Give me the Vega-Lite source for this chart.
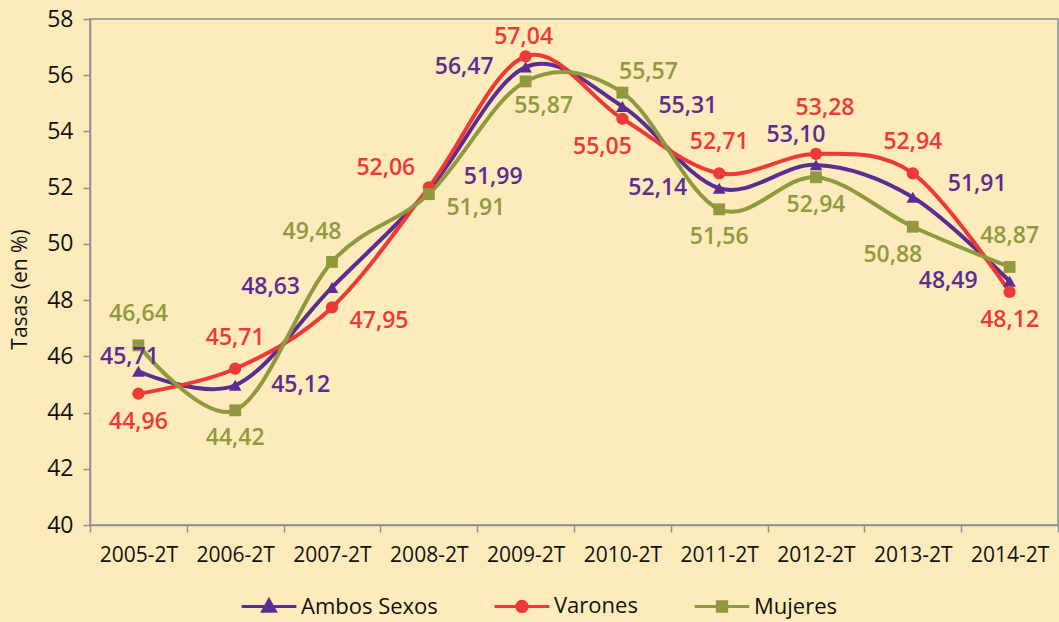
{
  "$schema": "https://vega.github.io/schema/vega-lite/v6.json",
  "width": 968,
  "height": 506,
  "autosize": {"type": "none"},
  "padding": {"left": 90, "top": 19, "right": 1, "bottom": 97},
  "background": "#fdebbb",
  "config": {
    "view": {"stroke": "#8b8f97", "strokeWidth": 1.5, "fill": "#fdebbb"},
    "font": "Open Sans"
  },
  "data": {
    "values": [
      {"periodo": "2005-2T", "serie": "Ambos Sexos", "tasa": 45.47, "etiqueta": "45,71"},
      {"periodo": "2006-2T", "serie": "Ambos Sexos", "tasa": 44.97, "etiqueta": "45,12"},
      {"periodo": "2007-2T", "serie": "Ambos Sexos", "tasa": 48.45, "etiqueta": "48,63"},
      {"periodo": "2008-2T", "serie": "Ambos Sexos", "tasa": 51.92, "etiqueta": "51,99"},
      {"periodo": "2009-2T", "serie": "Ambos Sexos", "tasa": 56.29, "etiqueta": "56,47"},
      {"periodo": "2010-2T", "serie": "Ambos Sexos", "tasa": 54.89, "etiqueta": "55,31"},
      {"periodo": "2011-2T", "serie": "Ambos Sexos", "tasa": 51.98, "etiqueta": "52,14"},
      {"periodo": "2012-2T", "serie": "Ambos Sexos", "tasa": 52.81, "etiqueta": "53,10"},
      {"periodo": "2013-2T", "serie": "Ambos Sexos", "tasa": 51.66, "etiqueta": "51,91"},
      {"periodo": "2014-2T", "serie": "Ambos Sexos", "tasa": 48.67, "etiqueta": "48,49"},
      {"periodo": "2005-2T", "serie": "Varones", "tasa": 44.67, "etiqueta": "44,96"},
      {"periodo": "2006-2T", "serie": "Varones", "tasa": 45.56, "etiqueta": "45,71"},
      {"periodo": "2007-2T", "serie": "Varones", "tasa": 47.74, "etiqueta": "47,95"},
      {"periodo": "2008-2T", "serie": "Varones", "tasa": 52.01, "etiqueta": "52,06"},
      {"periodo": "2009-2T", "serie": "Varones", "tasa": 56.67, "etiqueta": "57,04"},
      {"periodo": "2010-2T", "serie": "Varones", "tasa": 54.45, "etiqueta": "55,05"},
      {"periodo": "2011-2T", "serie": "Varones", "tasa": 52.51, "etiqueta": "52,71"},
      {"periodo": "2012-2T", "serie": "Varones", "tasa": 53.2, "etiqueta": "53,28"},
      {"periodo": "2013-2T", "serie": "Varones", "tasa": 52.51, "etiqueta": "52,94"},
      {"periodo": "2014-2T", "serie": "Varones", "tasa": 48.29, "etiqueta": "48,12"},
      {"periodo": "2005-2T", "serie": "Mujeres", "tasa": 46.39, "etiqueta": "46,64"},
      {"periodo": "2006-2T", "serie": "Mujeres", "tasa": 44.08, "etiqueta": "44,42"},
      {"periodo": "2007-2T", "serie": "Mujeres", "tasa": 49.36, "etiqueta": "49,48"},
      {"periodo": "2008-2T", "serie": "Mujeres", "tasa": 51.77, "etiqueta": "51,91"},
      {"periodo": "2009-2T", "serie": "Mujeres", "tasa": 55.78, "etiqueta": "55,87"},
      {"periodo": "2010-2T", "serie": "Mujeres", "tasa": 55.38, "etiqueta": "55,57"},
      {"periodo": "2011-2T", "serie": "Mujeres", "tasa": 51.23, "etiqueta": "51,56"},
      {"periodo": "2012-2T", "serie": "Mujeres", "tasa": 52.37, "etiqueta": "52,94"},
      {"periodo": "2013-2T", "serie": "Mujeres", "tasa": 50.61, "etiqueta": "50,88"},
      {"periodo": "2014-2T", "serie": "Mujeres", "tasa": 49.18, "etiqueta": "48,87"}
    ]
  },
  "encoding": {
    "x": {
      "field": "periodo", "type": "ordinal", "bandPosition": 0.5,
      "scale": {"type": "band", "paddingInner": 0, "paddingOuter": 0},
      "axis": {
        "title": null, "labelAngle": 0, "tickBand": "extent", "tickSize": 7,
        "tickColor": "#8b8f97", "domainColor": "#8b8f97", "domainWidth": 1.5, "tickWidth": 1.5,
        "labelFont": "Open Sans", "labelFontSize": 21, "labelColor": "#111111", "labelPadding": 12
      }
    },
    "y": {
      "field": "tasa", "type": "quantitative",
      "scale": {"domain": [40, 58], "nice": false, "zero": false},
      "axis": {
        "title": "Tasas (en %)", "titleFont": "Open Sans", "titleFontSize": 21, "titleFontWeight": "normal",
        "titleColor": "#111111", "titleX": -60, "titleY": 270,
        "values": [40, 42, 44, 46, 48, 50, 52, 54, 56, 58], "grid": false,
        "tickSize": 7, "tickColor": "#8b8f97", "domainColor": "#8b8f97", "domainWidth": 1.5, "tickWidth": 1.5,
        "labelFont": "Open Sans", "labelFontSize": 23, "labelColor": "#111111", "labelPadding": 10
      }
    },
    "color": {
      "field": "serie", "type": "nominal",
      "scale": {"domain": ["Ambos Sexos", "Varones", "Mujeres"], "range": ["#5c2d91", "#ee3a37", "#8e9a3d"]},
      "legend": {
        "title": null, "orient": "none", "direction": "horizontal",
        "legendX": 150, "legendY": 558, "padding": 0,
        "symbolType": "M-1,0H1", "symbolSize": 3000, "symbolStrokeWidth": 3, "labelOffset": 3,
        "columnPadding": 50, "labelFont": "Open Sans", "labelFontSize": 22, "labelColor": "#111111",
        "encode": {
          "symbols": {
            "update": {
              "shape": {"signal": "datum.value === 'Ambos Sexos' ? 'M-1,0H1M0,-0.24L0.23,0.17L-0.23,0.17Z' : datum.value === 'Varones' ? 'M-1,0H1M0.19,0A0.19,0.19 0 1,1 -0.19,0A0.19,0.19 0 1,1 0.19,0Z' : 'M-1,0H1M-0.17,-0.17H0.17V0.17H-0.17Z'"},
              "stroke": {"scale": "color", "field": "value"},
              "fill": {"scale": "color", "field": "value"},
              "fillOpacity": {"value": 1},
              "strokeWidth": {"value": 3}
            }
          }
        }
      }
    }
  },
  "layer": [
    {
      "mark": {"type": "line", "interpolate": "cardinal", "strokeWidth": 4}
    },
    {
      "transform": [{"filter": "datum.serie === 'Ambos Sexos'"}],
      "mark": {"type": "point", "filled": true, "size": 160, "opacity": 1, "shape": "triangle-up"}
    },
    {
      "transform": [{"filter": "datum.serie === 'Varones'"}],
      "mark": {"type": "point", "filled": true, "size": 150, "opacity": 1, "shape": "circle"}
    },
    {
      "transform": [{"filter": "datum.serie === 'Mujeres'"}],
      "mark": {"type": "point", "filled": true, "size": 140, "opacity": 1, "shape": "square"}
    },
    {
      "transform": [{"filter": "indexof(['Mujeres|2005-2T','Varones|2006-2T','Varones|2011-2T','Varones|2013-2T','Mujeres|2014-2T'], datum.serie + '|' + datum.periodo) >= 0"}],
      "mark": {"type": "text", "dx": 0, "dy": -31, "baseline": "middle", "align": "center", "fontSize": 23, "fontWeight": 600, "font": "Open Sans"},
      "encoding": {"text": {"field": "etiqueta"}}
    },
    {
      "transform": [{"filter": "indexof(['Mujeres|2006-2T','Mujeres|2011-2T','Varones|2005-2T','Varones|2014-2T','Mujeres|2012-2T'], datum.serie + '|' + datum.periodo) >= 0"}],
      "mark": {"type": "text", "dx": 0, "dy": 28, "baseline": "middle", "align": "center", "fontSize": 23, "fontWeight": 600, "font": "Open Sans"},
      "encoding": {"text": {"field": "etiqueta"}}
    },
    {
      "transform": [{"filter": "indexof(['Mujeres|2013-2T','Varones|2010-2T'], datum.serie + '|' + datum.periodo) >= 0"}],
      "mark": {"type": "text", "dx": -20, "dy": 28, "baseline": "middle", "align": "center", "fontSize": 23, "fontWeight": 600, "font": "Open Sans"},
      "encoding": {"text": {"field": "etiqueta"}}
    },
    {
      "transform": [{"filter": "indexof(['Mujeres|2009-2T'], datum.serie + '|' + datum.periodo) >= 0"}],
      "mark": {"type": "text", "dx": 18, "dy": 25, "baseline": "middle", "align": "center", "fontSize": 23, "fontWeight": 600, "font": "Open Sans"},
      "encoding": {"text": {"field": "etiqueta"}}
    },
    {
      "transform": [{"filter": "indexof(['Ambos Sexos|2008-2T','Ambos Sexos|2013-2T'], datum.serie + '|' + datum.periodo) >= 0"}],
      "mark": {"type": "text", "dx": 35, "dy": -13, "baseline": "middle", "align": "left", "fontSize": 23, "fontWeight": 600, "font": "Open Sans"},
      "encoding": {"text": {"field": "etiqueta"}}
    },
    {
      "transform": [{"filter": "indexof(['Ambos Sexos|2006-2T','Ambos Sexos|2010-2T'], datum.serie + '|' + datum.periodo) >= 0"}],
      "mark": {"type": "text", "dx": 36, "dy": 0, "baseline": "middle", "align": "left", "fontSize": 23, "fontWeight": 600, "font": "Open Sans"},
      "encoding": {"text": {"field": "etiqueta"}}
    },
    {
      "transform": [{"filter": "indexof(['Ambos Sexos|2007-2T','Ambos Sexos|2009-2T','Ambos Sexos|2011-2T','Ambos Sexos|2014-2T'], datum.serie + '|' + datum.periodo) >= 0"}],
      "mark": {"type": "text", "dx": -32, "dy": 0, "baseline": "middle", "align": "right", "fontSize": 23, "fontWeight": 600, "font": "Open Sans"},
      "encoding": {"text": {"field": "etiqueta"}}
    },
    {
      "transform": [{"filter": "indexof(['Mujeres|2008-2T','Varones|2007-2T'], datum.serie + '|' + datum.periodo) >= 0"}],
      "mark": {"type": "text", "dx": 47, "dy": 14, "baseline": "middle", "align": "center", "fontSize": 23, "fontWeight": 600, "font": "Open Sans"},
      "encoding": {"text": {"field": "etiqueta"}}
    },
    {
      "transform": [{"filter": "indexof(['Mujeres|2007-2T','Ambos Sexos|2012-2T'], datum.serie + '|' + datum.periodo) >= 0"}],
      "mark": {"type": "text", "dx": -20, "dy": -30, "baseline": "middle", "align": "center", "fontSize": 23, "fontWeight": 600, "font": "Open Sans"},
      "encoding": {"text": {"field": "etiqueta"}}
    },
    {
      "transform": [{"filter": "indexof(['Mujeres|2010-2T'], datum.serie + '|' + datum.periodo) >= 0"}],
      "mark": {"type": "text", "dx": 26, "dy": -21, "baseline": "middle", "align": "center", "fontSize": 23, "fontWeight": 600, "font": "Open Sans"},
      "encoding": {"text": {"field": "etiqueta"}}
    },
    {
      "transform": [{"filter": "indexof(['Varones|2008-2T'], datum.serie + '|' + datum.periodo) >= 0"}],
      "mark": {"type": "text", "dx": -43, "dy": -19, "baseline": "middle", "align": "center", "fontSize": 23, "fontWeight": 600, "font": "Open Sans"},
      "encoding": {"text": {"field": "etiqueta"}}
    },
    {
      "transform": [{"filter": "indexof(['Varones|2009-2T'], datum.serie + '|' + datum.periodo) >= 0"}],
      "mark": {"type": "text", "dx": -2, "dy": -19, "baseline": "middle", "align": "center", "fontSize": 23, "fontWeight": 600, "font": "Open Sans"},
      "encoding": {"text": {"field": "etiqueta"}}
    },
    {
      "transform": [{"filter": "indexof(['Varones|2012-2T'], datum.serie + '|' + datum.periodo) >= 0"}],
      "mark": {"type": "text", "dx": 9, "dy": -46, "baseline": "middle", "align": "center", "fontSize": 23, "fontWeight": 600, "font": "Open Sans"},
      "encoding": {"text": {"field": "etiqueta"}}
    },
    {
      "transform": [{"filter": "indexof(['Ambos Sexos|2005-2T'], datum.serie + '|' + datum.periodo) >= 0"}],
      "mark": {"type": "text", "dx": -9, "dy": -14, "baseline": "middle", "align": "center", "fontSize": 23, "fontWeight": 600, "font": "Open Sans"},
      "encoding": {"text": {"field": "etiqueta"}}
    }
  ]
}
